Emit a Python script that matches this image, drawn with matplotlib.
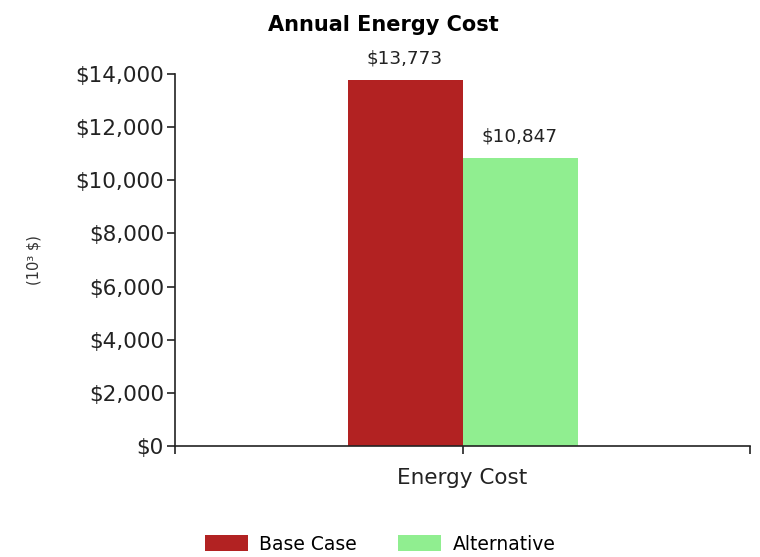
import matplotlib.pyplot as plt
from matplotlib.ticker import FuncFormatter

# data
series = ['Base Case', 'Alternative']
values = [13773, 10847]
colors = ['#B22222', '#90EE90']
category = 'Energy Cost'

plt.rcParams['font.family'] = ['DejaVu Sans']

fig = plt.figure(figsize=(7.6, 5.57), dpi=100)
ax = fig.add_axes([175 / 760, 1 - 446 / 557, 575 / 760, 372 / 557])

bar_w = 0.2
offsets = [-bar_w / 2, bar_w / 2]
for name, val, col, off in zip(series, values, colors, offsets):
    ax.bar(off, val, width=bar_w, color=col, label=name)
    ax.text(off, val + 480, f'${val:,.0f}', ha='center', va='bottom',
            fontsize=13.3, color='#222222')

ax.set_xlim(-0.5, 0.5)
ax.set_ylim(0, 14000)
ax.set_yticks(range(0, 14001, 2000))
ax.yaxis.set_major_formatter(FuncFormatter(lambda v, p: f'${v:,.0f}'))
ax.set_xticks([-0.5, 0, 0.5])
ax.set_xticklabels(['', category, ''])

ax.tick_params(axis='y', labelsize=15.5, length=6, width=1.2, pad=2, colors='#222222')
ax.tick_params(axis='x', labelsize=15.5, length=6, width=1.2, pad=10, colors='#222222')

for s in ['top', 'right']:
    ax.spines[s].set_visible(False)
for s in ['left', 'bottom']:
    ax.spines[s].set_linewidth(1.2)
    ax.spines[s].set_color('#222222')

ax.set_ylabel('(10³ $)', fontsize=10.5, color='#333333', labelpad=24)

fig.text(383 / 760, 1 - 25 / 557, 'Annual Energy Cost', ha='center', va='center',
         fontsize=15, fontweight='bold')

fig.legend(loc='center', bbox_to_anchor=(380 / 760, 1 - 544 / 557), ncol=2,
           frameon=False, fontsize=13.5, handlelength=2.3, handleheight=0.95,
           handletextpad=0.6, columnspacing=2.2)

fig.savefig('out.png', dpi=100, facecolor='white')
